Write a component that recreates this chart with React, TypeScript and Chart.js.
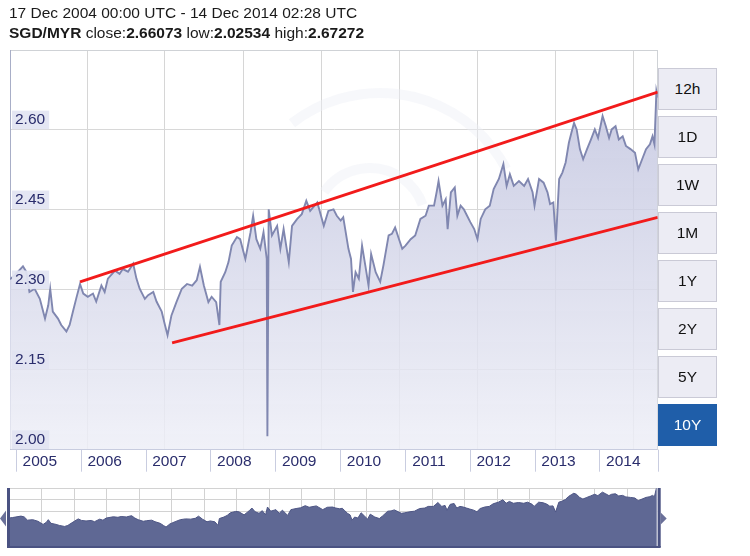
import React, { useEffect, useRef } from 'react';
import { Chart, registerables } from 'chart.js';

Chart.register(...registerables);

// ---------- header texts ----------
const headerRange = '17 Dec 2004 00:00 UTC - 14 Dec 2014 02:28 UTC';
const pairName = 'SGD/MYR';
const closeValue = '2.66073';
const lowValue = '2.02534';
const highValue = '2.67272';

// ---------- axes ----------
const X_MIN = 2004.96; // 17 Dec 2004
const X_MAX = 2014.95; // 14 Dec 2014
const Y_MIN = 2.0;
const Y_MAX = 2.75;
const yearLabels = ['2005', '2006', '2007', '2008', '2009', '2010', '2011', '2012', '2013', '2014'];
const yTickValues = [2.0, 2.15, 2.3, 2.45, 2.6];
const verticalGridYears = [2006.15, 2007.35, 2008.56, 2009.76, 2010.97, 2012.17, 2013.37, 2014.58];
const rangeButtons = ['12h', '1D', '1W', '1M', '1Y', '2Y', '5Y', '10Y'];
const activeRange = '10Y';

// ---------- price series (decimal year, SGD/MYR) ----------
const seriesYears = [
  2004.96, 2005.03, 2005.16, 2005.21, 2005.26, 2005.34, 2005.42, 2005.50, 2005.55, 2005.58, 2005.62, 2005.70, 2005.75, 2005.83, 2005.88, 2005.93, 2005.98,
  2006.04, 2006.09, 2006.16, 2006.24, 2006.29, 2006.37, 2006.42, 2006.47, 2006.58, 2006.65, 2006.70, 2006.78, 2006.86, 2006.91, 2006.96,
  2007.04, 2007.09, 2007.17, 2007.22, 2007.30, 2007.35, 2007.39, 2007.45, 2007.53, 2007.61, 2007.69, 2007.77, 2007.84, 2007.89, 2007.95,
  2008.02, 2008.07, 2008.14, 2008.19, 2008.21, 2008.28, 2008.33, 2008.38, 2008.46, 2008.51, 2008.59, 2008.67, 2008.71, 2008.76, 2008.82, 2008.87, 2008.92, 2008.93, 2008.95,
  2009.00, 2009.08, 2009.13, 2009.18, 2009.26, 2009.31, 2009.39, 2009.46, 2009.53, 2009.59, 2009.70, 2009.80, 2009.87, 2009.95,
  2010.00, 2010.06, 2010.10, 2010.13, 2010.18, 2010.22, 2010.25, 2010.29, 2010.34, 2010.39, 2010.44, 2010.49, 2010.53, 2010.60, 2010.67, 2010.72, 2010.80, 2010.85, 2010.90, 2010.96,
  2011.01, 2011.06, 2011.14, 2011.21, 2011.29, 2011.37, 2011.42, 2011.50, 2011.54, 2011.57, 2011.63, 2011.68, 2011.71, 2011.76, 2011.82, 2011.86, 2011.91, 2011.96,
  2012.01, 2012.06, 2012.12, 2012.17, 2012.22, 2012.29, 2012.36, 2012.42, 2012.50, 2012.57, 2012.62, 2012.67, 2012.73, 2012.81, 2012.89, 2012.95,
  2013.02, 2013.05, 2013.12, 2013.19, 2013.25, 2013.29, 2013.34, 2013.38, 2013.43, 2013.48, 2013.53, 2013.58, 2013.62, 2013.66, 2013.70, 2013.75, 2013.80, 2013.86, 2013.92, 2013.98,
  2014.03, 2014.10, 2014.15, 2014.20, 2014.24, 2014.30, 2014.35, 2014.41, 2014.46, 2014.53, 2014.60, 2014.65, 2014.71, 2014.77, 2014.83, 2014.87, 2014.90, 2014.93, 2014.95,
];
const seriesValues = [
  2.320, 2.327, 2.344, 2.334, 2.296, 2.302, 2.283, 2.246, 2.271, 2.302, 2.259, 2.246, 2.234, 2.222, 2.234, 2.259, 2.283,
  2.311, 2.293, 2.287, 2.293, 2.278, 2.308, 2.296, 2.321, 2.336, 2.330, 2.339, 2.334, 2.349, 2.321, 2.302,
  2.283, 2.290, 2.296, 2.278, 2.259, 2.234, 2.215, 2.252, 2.278, 2.302, 2.311, 2.308, 2.318, 2.343, 2.308,
  2.277, 2.287, 2.277, 2.234, 2.315, 2.333, 2.352, 2.383, 2.399, 2.395, 2.358, 2.408, 2.439, 2.395, 2.377, 2.408, 2.358, 2.0253, 2.451,
  2.402, 2.420, 2.377, 2.414, 2.352, 2.420, 2.433, 2.442, 2.467, 2.448, 2.464, 2.420, 2.448, 2.451,
  2.439, 2.430, 2.436, 2.414, 2.377, 2.358, 2.296, 2.333, 2.321, 2.383, 2.346, 2.308, 2.367, 2.333, 2.315, 2.346, 2.402, 2.405, 2.417, 2.395,
  2.377, 2.383, 2.395, 2.402, 2.433, 2.439, 2.458, 2.458, 2.483, 2.504, 2.458, 2.470, 2.414, 2.483, 2.492, 2.439, 2.458, 2.451,
  2.439, 2.427, 2.414, 2.395, 2.433, 2.451, 2.458, 2.489, 2.508, 2.536, 2.495, 2.517, 2.495, 2.504, 2.495, 2.508,
  2.483, 2.458, 2.508, 2.501, 2.483, 2.461, 2.464, 2.392, 2.508, 2.520, 2.539, 2.576, 2.595, 2.613, 2.601, 2.564, 2.545, 2.564, 2.582, 2.601,
  2.585, 2.626, 2.607, 2.585, 2.601, 2.607, 2.582, 2.588, 2.570, 2.564, 2.557, 2.526, 2.545, 2.564, 2.573, 2.588, 2.573, 2.6727, 2.6607,
];

// ---------- hand-drawn trend channel ----------
const upperTrendYears = [2006.04, 2014.95];
const upperTrendValues = [2.315, 2.671];
const lowerTrendYears = [2007.46, 2014.95];
const lowerTrendValues = [2.2006, 2.436];

// ---------- navigator ----------
const NAV_Y_MIN = 1.98;
const NAV_Y_MAX = 2.675;
const navGridValues = [2.393, 2.534, 2.675];

const FONT = '"Liberation Sans", Arial, Helvetica, sans-serif';
const NAVY = '#2a2d6c';

const zip = (xs: number[], ys: number[]) => xs.map((x, i) => ({ x, y: ys[i] }));

const mainDecor = {
  id: 'mainDecor',
  beforeDatasetsDraw(chart: any) {
    const { ctx, chartArea: a } = chart;
    ctx.save();
    ctx.beginPath();
    ctx.rect(a.left, a.top, a.width, a.height);
    ctx.clip();
    ctx.strokeStyle = 'rgba(238,239,247,0.45)';
    ctx.lineWidth = 10;
    ctx.beginPath();
    ctx.arc(a.left + 370, a.top + 186, 143, (232 * Math.PI) / 180, (332 * Math.PI) / 180);
    ctx.stroke();
    ctx.beginPath();
    ctx.arc(a.left + 360, a.top + 174, 56, (215 * Math.PI) / 180, (340 * Math.PI) / 180);
    ctx.stroke();
    ctx.restore();
  },
  afterDraw(chart: any) {
    const { ctx, chartArea: a } = chart;
    const xs = chart.scales.x;
    ctx.save();
    ctx.strokeStyle = '#c9cde0';
    ctx.lineWidth = 1;
    ctx.beginPath();
    const seps = yearLabels.map((y) => xs.getPixelForValue(Number(y) + 0.05));
    seps.push(a.right);
    seps.forEach((px: number) => {
      const p = Math.round(px) + 0.5;
      ctx.moveTo(p, a.bottom);
      ctx.lineTo(p, a.bottom + 22);
    });
    ctx.stroke();
    ctx.restore();
  },
};

const navDecor = {
  id: 'navDecor',
  afterDraw(chart: any) {
    const { ctx, chartArea: a } = chart;
    ctx.save();
    ctx.fillStyle = '#4a5282';
    ctx.fillRect(a.left - 1, a.top, 3, a.bottom - a.top);
    ctx.fillStyle = '#ffffff';
    ctx.fillRect(a.right - 1, a.top, 1, a.bottom - a.top);
    ctx.fillStyle = '#4a5282';
    ctx.fillRect(a.right, a.top, 3, a.bottom - a.top);
    ctx.fillRect(a.left - 1, a.bottom - 1, a.right - a.left + 4, 2);
    const mid = (a.top + a.bottom) / 2 + 1;
    ctx.fillStyle = '#6a7099';
    ctx.beginPath();
    ctx.moveTo(a.left - 2, mid - 8);
    ctx.lineTo(a.left - 8, mid);
    ctx.lineTo(a.left - 2, mid + 8);
    ctx.closePath();
    ctx.fill();
    ctx.beginPath();
    ctx.moveTo(a.right + 3, mid - 6);
    ctx.lineTo(a.right + 9, mid);
    ctx.lineTo(a.right + 3, mid + 6);
    ctx.closePath();
    ctx.fill();
    ctx.restore();
  },
};

export default function App() {
  const mainRef = useRef<HTMLCanvasElement | null>(null);
  const navRef = useRef<HTMLCanvasElement | null>(null);

  useEffect(() => {
    const series = zip(seriesYears, seriesValues);
    const main = new Chart(mainRef.current as HTMLCanvasElement, {
      type: 'line',
      data: {
        datasets: [
          {
            label: 'upper trend',
            data: zip(upperTrendYears, upperTrendValues),
            borderColor: '#f21b1b',
            borderWidth: 2.8,
            pointRadius: 0,
            fill: false,
            order: 0,
          },
          {
            label: 'lower trend',
            data: zip(lowerTrendYears, lowerTrendValues),
            borderColor: '#f21b1b',
            borderWidth: 2.8,
            pointRadius: 0,
            fill: false,
            order: 0,
          },
          {
            label: pairName,
            data: series,
            borderColor: '#8087b0',
            borderWidth: 1.9,
            pointRadius: 0,
            tension: 0,
            fill: 'start',
            order: 1,
            backgroundColor: (c: any) => {
              const a = c.chart.chartArea;
              if (!a) return 'rgba(205,207,228,0.8)';
              const g = c.chart.ctx.createLinearGradient(0, a.top, 0, a.bottom);
              g.addColorStop(0, 'rgba(186,189,219,0.8)');
              g.addColorStop(1, 'rgba(238,239,247,0.85)');
              return g;
            },
          },
        ] as any,
      },
      options: {
        animation: false,
        responsive: false,
        maintainAspectRatio: false,
        events: [],
        layout: { padding: { left: 0, top: 50, right: 92.3, bottom: 81.7 } },
        plugins: { legend: { display: false }, tooltip: { enabled: false } },
        scales: {
          x: {
            type: 'linear',
            position: 'bottom',
            min: X_MIN,
            max: X_MAX,
            afterBuildTicks: (s: any) => {
              s.ticks = yearLabels.map((y) => ({ value: Number(y) + 0.42 }));
            },
            ticks: {
              autoSkip: false,
              maxRotation: 0,
              minRotation: 0,
              padding: 3,
              color: NAVY,
              font: { family: FONT, size: 15.5 },
              callback: (_v: any, i: number) => yearLabels[i],
            },
            grid: { drawOnChartArea: false, drawTicks: false },
            border: { display: true, color: '#b3b9d1' },
          },
          xg: {
            type: 'linear',
            position: 'top',
            min: X_MIN,
            max: X_MAX,
            afterBuildTicks: (s: any) => {
              s.ticks = verticalGridYears.map((v) => ({ value: v }));
            },
            ticks: { display: false },
            grid: { color: '#d6d6d6', drawTicks: false },
            border: { display: true, color: '#cfd2d6' },
          },
          y: {
            type: 'linear',
            position: 'left',
            min: Y_MIN,
            max: Y_MAX,
            afterBuildTicks: (s: any) => {
              s.ticks = yTickValues.map((v) => ({ value: v }));
            },
            ticks: {
              z: 1,
              mirror: true,
              padding: 5,
              labelOffset: -10,
              color: NAVY,
              font: { family: FONT, size: 15.5 },
              showLabelBackdrop: true,
              backdropColor: 'rgba(226,228,242,0.92)',
              backdropPadding: { top: 0, bottom: 0, left: 3, right: 4 },
              callback: (v: any) => Number(v).toFixed(2),
            } as any,
            grid: { color: '#d8d8d8', drawTicks: false },
            border: { display: true, color: '#a8aec7' },
          },
          yr: {
            type: 'linear',
            position: 'right',
            min: Y_MIN,
            max: Y_MAX,
            ticks: { display: false },
            grid: { drawOnChartArea: false, drawTicks: false },
            border: { display: true, color: '#cfd2d6' },
          },
        } as any,
      },
      plugins: [mainDecor],
    });

    const navSeries = series.filter((p) => p.y > NAV_Y_MIN + 0.1);
    const nav = new Chart(navRef.current as HTMLCanvasElement, {
      type: 'line',
      data: {
        datasets: [
          {
            label: 'navigator',
            data: navSeries,
            borderColor: '#4d5584',
            borderWidth: 1,
            pointRadius: 0,
            fill: 'start',
            backgroundColor: '#5f6894',
          },
        ] as any,
      },
      options: {
        animation: false,
        responsive: false,
        maintainAspectRatio: false,
        events: [],
        layout: { padding: { left: 8, top: 8, right: 14.3, bottom: 5 } },
        plugins: { legend: { display: false }, tooltip: { enabled: false } },
        scales: {
          x: {
            type: 'linear',
            min: X_MIN,
            max: X_MAX,
            afterBuildTicks: (s: any) => {
              s.ticks = yearLabels.flatMap((y) => [Number(y) - 0.02, Number(y) + 0.48]).map((v) => ({ value: v }));
            },
            ticks: { display: false },
            grid: { color: '#d2d2d2', drawTicks: false },
            border: { display: false },
          },
          y: {
            type: 'linear',
            min: NAV_Y_MIN,
            max: NAV_Y_MAX,
            afterBuildTicks: (s: any) => {
              s.ticks = navGridValues.map((v) => ({ value: v }));
            },
            ticks: { display: false },
            grid: { color: '#d2d2d2', drawTicks: false },
            border: { display: false },
          },
        } as any,
      },
      plugins: [navDecor],
    });

    return () => {
      main.destroy();
      nav.destroy();
    };
  }, []);

  const textBase: React.CSSProperties = {
    position: 'absolute',
    left: 9,
    fontFamily: FONT,
    fontSize: 15.5,
    lineHeight: '18px',
    color: '#1a1a1a',
    whiteSpace: 'nowrap',
  };

  return (
    <div
      style={{
        position: 'fixed',
        left: 0,
        top: 0,
        width: 750,
        height: 556,
        background: '#ffffff',
        overflow: 'hidden',
        fontFamily: FONT,
      }}
    >
      <canvas ref={mainRef} width={750} height={556} style={{ position: 'absolute', left: 0, top: 0, width: 750, height: 556 }} />
      <canvas ref={navRef} width={672} height={72} style={{ position: 'absolute', left: 0, top: 480, width: 672, height: 72 }} />
      <div style={{ ...textBase, top: 4 }}>{headerRange}</div>
      <div style={{ ...textBase, top: 24 }}>
        <b>{pairName}</b> close:<b>{closeValue}</b> low:<b>{lowValue}</b> high:<b>{highValue}</b>
      </div>
      {rangeButtons.map((label, i) => {
        const active = label === activeRange;
        return (
          <div
            key={label}
            style={{
              position: 'absolute',
              left: 658,
              top: 68 + 48 * i,
              width: 59,
              height: 42,
              boxSizing: 'border-box',
              border: active ? '1px solid #1f5ea9' : '1px solid #cacad6',
              background: active ? '#1f5ea9' : '#ececf4',
              color: active ? '#ffffff' : '#111111',
              fontFamily: FONT,
              fontSize: 15.5,
              lineHeight: '40px',
              textAlign: 'center',
            }}
          >
            {label}
          </div>
        );
      })}
    </div>
  );
}
